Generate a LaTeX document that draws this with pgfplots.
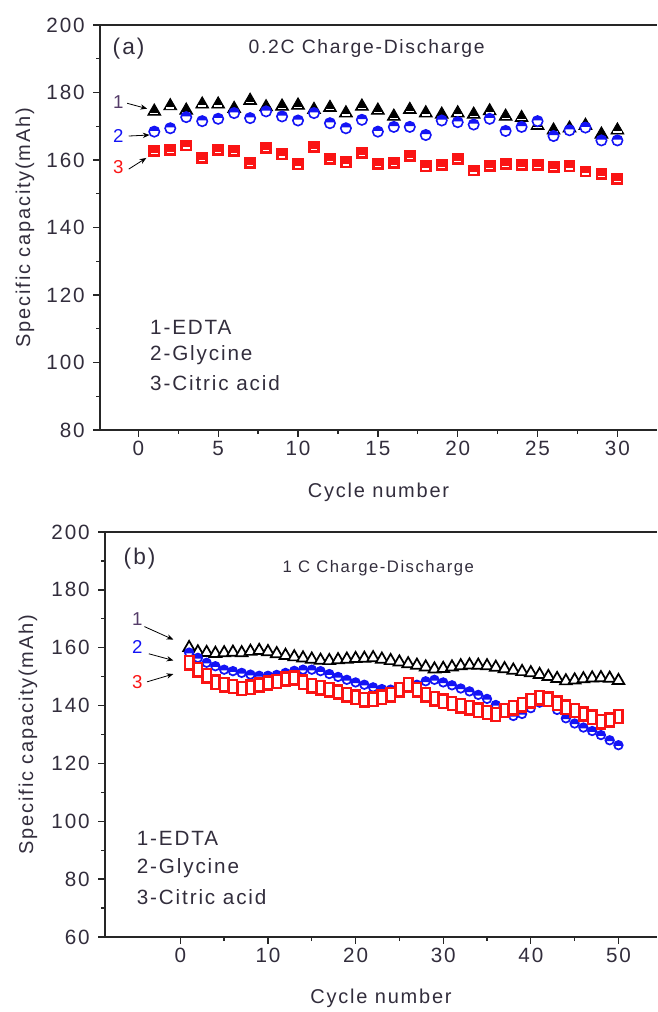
\documentclass[border=0pt]{standalone}
\usepackage{pgfplots}
\usepackage{pgfplotstable}
\pgfplotsset{compat=1.18}
\usepackage{fontspec}
\setmainfont{Liberation Sans}[LetterSpace=9]
\usetikzlibrary{arrows.meta}

\definecolor{txt}{RGB}{50,45,60}
\definecolor{mblue}{RGB}{20,20,245}
\definecolor{mred}{RGB}{250,20,20}
\definecolor{lbl1}{RGB}{85,60,105}

\pgfdeclareplotmark{triA}{%
  \pgfpathmoveto{\pgfqpoint{0pt}{\pgfplotmarksize}}%
  \pgfpathlineto{\pgfqpoint{-0.866\pgfplotmarksize}{-0.5\pgfplotmarksize}}%
  \pgfpathlineto{\pgfqpoint{0.866\pgfplotmarksize}{-0.5\pgfplotmarksize}}%
  \pgfpathclose
  \pgfusepathqfillstroke
  \begin{pgfscope}\pgfsetfillcolor{white}%
  \pgfpathrectangle{\pgfqpoint{-0.55\pgfplotmarksize}{-0.36\pgfplotmarksize}}{\pgfqpoint{1.1\pgfplotmarksize}{0.2\pgfplotmarksize}}%
  \pgfusepathqfill\end{pgfscope}%
}
\pgfdeclareplotmark{halfC}{%
  \begin{pgfscope}\pgfsetfillcolor{white}%
  \pgfpathcircle{\pgfpointorigin}{\pgfplotmarksize}\pgfusepathqfillstroke
  \end{pgfscope}%
  \pgfpathmoveto{\pgfpointpolar{171}{\pgfplotmarksize}}%
  \pgfpatharc{171}{9}{\pgfplotmarksize}%
  \pgfpathclose
  \pgfusepathqfill
}
\pgfdeclareplotmark{fullC}{%
  \begin{pgfscope}\pgfsetfillcolor{white}%
  \pgfpathcircle{\pgfpointorigin}{\pgfplotmarksize}\pgfusepathqfillstroke
  \end{pgfscope}%
  \pgfpathmoveto{\pgfpointpolar{190}{\pgfplotmarksize}}%
  \pgfpatharc{190}{-10}{\pgfplotmarksize}%
  \pgfpathclose
  \pgfusepathqfill
}
\pgfdeclareplotmark{sqA}{%
  \pgfpathrectangle{\pgfqpoint{-\pgfplotmarksize}{-\pgfplotmarksize}}{\pgfqpoint{2\pgfplotmarksize}{2\pgfplotmarksize}}%
  \pgfusepathqfillstroke
  \begin{pgfscope}\pgfsetfillcolor{white}%
  \pgfpathrectangle{\pgfqpoint{-0.6\pgfplotmarksize}{-0.6\pgfplotmarksize}}{\pgfqpoint{1.2\pgfplotmarksize}{0.25\pgfplotmarksize}}%
  \pgfusepathqfill\end{pgfscope}%
}
\pgfdeclareplotmark{rectB}{%
  \pgfpathrectangle{\pgfqpoint{-0.62\pgfplotmarksize}{-\pgfplotmarksize}}{\pgfqpoint{1.24\pgfplotmarksize}{2\pgfplotmarksize}}%
  \pgfusepathqfillstroke
}

\pgfplotstableread{
n s1 s2 s3
1 174.4 168.4 162.7
2 176.0 169.4 162.9
3 174.7 172.7 164.3
4 176.5 171.5 160.7
5 176.5 172.2 163.0
6 175.2 173.9 162.7
7 177.6 172.4 159.2
8 175.7 174.4 163.6
9 175.9 172.9 161.7
10 176.2 171.7 158.7
11 174.9 173.9 163.8
12 175.5 170.9 160.3
13 173.9 169.4 159.3
14 175.9 171.9 162.1
15 174.7 168.4 158.9
16 172.9 169.8 159.1
17 174.9 169.8 161.2
18 173.9 167.4 158.1
19 173.5 171.7 158.5
20 173.9 171.2 160.3
21 173.5 170.5 156.9
22 174.5 172.2 158.3
23 172.9 168.6 158.9
24 172.5 169.8 158.5
25 170.2 171.5 158.5
26 168.8 167.1 157.9
27 169.4 168.8 158.1
28 170.2 169.6 156.6
29 167.6 165.8 155.8
30 168.8 165.8 154.4
}\tableA

\pgfplotstableread{
n s1 s2 s3
1 160.0 158.3 154.8
2 158.5 156.5 152.4
3 158.3 154.8 150.3
4 158.0 153.6 148.0
5 158.2 152.4 147.2
6 158.4 151.9 146.6
7 158.2 151.3 145.9
8 158.7 150.7 146.3
9 159.0 150.3 147.1
10 158.6 150.3 147.8
11 157.9 150.6 148.3
12 157.3 151.3 149.2
13 156.8 152.0 149.5
14 156.4 152.4 148.0
15 156.0 152.4 146.9
16 155.6 151.9 146.2
17 155.5 150.9 145.5
18 155.8 149.9 144.7
19 156.0 148.9 143.8
20 156.2 148.0 142.9
21 156.3 147.2 142.0
22 156.5 146.3 142.2
23 156.0 145.7 142.9
24 155.5 145.5 143.8
25 155.0 146.0 145.5
26 154.4 146.6 147.2
27 153.9 147.2 145.5
28 153.3 148.4 143.8
29 152.6 148.9 142.4
30 152.8 148.0 141.5
31 153.3 147.0 140.7
32 153.7 145.9 140.0
33 154.0 144.9 139.2
34 153.9 143.7 138.4
35 153.7 142.3 137.6
36 153.2 140.2 136.9
37 152.7 137.9 138.3
38 152.2 136.4 139.2
39 151.7 137.1 140.3
40 151.3 139.1 141.7
41 150.7 141.0 142.7
42 150.0 142.0 142.2
43 149.3 138.5 140.8
44 148.5 135.6 139.4
45 148.8 133.8 138.3
46 149.2 132.4 137.1
47 149.5 131.2 135.9
48 149.6 129.8 134.4
49 149.4 128.0 135.0
50 148.6 126.3 136.2
}\tableB

\pgfplotsset{mystyle/.style={
  scale only axis, clip=false,
  axis x line*=bottom, axis y line*=left,
  axis line style={line width=1.1pt, color=black!85},
  tick align=outside,
  major tick length=5pt, minor tick length=3pt,
  every tick/.style={line width=1pt, color=black!85},
  tick label style={font=\fontsize{15.5}{17}\selectfont, text=txt},
  /pgf/number format/assume math mode=true,
  xlabel={Cycle number}, ylabel={Specific capacity(mAh)},
  label style={font=\fontsize{15}{17}\selectfont, text=txt},
  yticklabel style={xshift=-3pt},
  minor x tick num=1, minor y tick num=1,
}}

\begin{document}
\begin{tikzpicture}
\useasboundingbox (0,0) rectangle (492.75pt,759pt);
% panel (a)
\begin{axis}[mystyle,
  at={(75pt,436.5pt)}, anchor=south west,
  width=417.75pt, height=303.75pt,
  xmin=-2.4, xmax=32.48, ymin=80, ymax=200,
  xtick={0,5,...,30}, ytick={80,100,...,200},
  xlabel style={at={(axis description cs:0.5,-0.153)}, anchor=center},
  ylabel style={at={(axis description cs:-0.1347,0.5)}, anchor=center},
]
\draw[line width=1.1pt, black!85] (rel axis cs:0,1) -- (rel axis cs:1,1);
\addplot[only marks, mark=triA, mark size=5.6pt, draw=black, fill=black, line width=0.7pt] table[x=n,y=s1] {\tableA};
\addplot[only marks, mark=halfC, mark size=3.9pt, draw=mblue, fill=mblue, line width=1.2pt] table[x=n,y=s2] {\tableA};
\addplot[only marks, mark=sqA, mark size=4.1pt, draw=mred, fill=mred, line width=0.7pt] table[x=n,y=s3] {\tableA};
\node[anchor=west, font=\fontsize{17}{19}\selectfont, text=txt] at (axis cs:-1.9,193.0) {(a)};
\node[font=\fontsize{14.5}{17}\selectfont, text=txt] at (axis cs:14.3,193.0) {0.2C Charge-Discharge};
\node[font=\fontsize{14}{16}\selectfont, text=lbl1] at (axis cs:-1.25,177.3) {1};
\node[font=\fontsize{14}{16}\selectfont, text=mblue] at (axis cs:-1.25,167.1) {2};
\node[font=\fontsize{14}{16}\selectfont, text=mred] at (axis cs:-1.25,157.8) {3};
\draw[-{Stealth[length=5pt,width=4pt]}, line width=0.6pt] (axis cs:-0.7,176.8) -- (axis cs:0.55,175.2);
\draw[-{Stealth[length=5pt,width=4pt]}, line width=0.6pt] (axis cs:-0.6,167.1) -- (axis cs:0.7,167.4);
\draw[-{Stealth[length=5pt,width=4pt]}, line width=0.6pt] (axis cs:-0.6,157.3) -- (axis cs:0.5,160.6);
\node[anchor=west, font=\fontsize{15.5}{17}\selectfont, text=txt] at (axis cs:0.45,110.5) {1-EDTA};
\node[anchor=west, font=\fontsize{15.5}{17}\selectfont, text=txt] at (axis cs:0.45,102.2) {2-Glycine};
\node[anchor=west, font=\fontsize{15.5}{17}\selectfont, text=txt] at (axis cs:0.45,93.9) {3-Citric acid};
\end{axis}
% panel (b)
\begin{axis}[mystyle,
  at={(78.75pt,56.25pt)}, anchor=south west,
  width=414pt, height=303.75pt,
  xmin=-8.6, xmax=54.4, ymin=60, ymax=200,
  xtick={0,10,...,50}, ytick={60,80,...,200},
  xlabel style={at={(axis description cs:0.5,-0.151)}, anchor=center},
  ylabel style={at={(axis description cs:-0.1395,0.5)}, anchor=center},
]
\draw[line width=1.1pt, black!85] (rel axis cs:0,1) -- (rel axis cs:1,1);
\addplot[only marks, mark=triangle*, mark size=5.1pt, draw=black, fill=white, line width=1.3pt] table[x=n,y=s1] {\tableB};
\addplot[only marks, mark=fullC, mark size=3.2pt, draw=mblue, fill=mblue, line width=1.3pt] table[x=n,y=s2] {\tableB};
\addplot[only marks, mark=rectB, mark size=5pt, draw=mred, fill=white, line width=1.9pt] table[x=n,y=s3] {\tableB};
\node[anchor=west, font=\fontsize{17}{19}\selectfont, text=txt] at (axis cs:-7.0,190.7) {(b)};
\node[font=\fontsize{12.5}{15}\selectfont, text=txt] at (axis cs:22.6,187.4) {1 C Charge-Discharge};
\node[font=\fontsize{14}{16}\selectfont, text=lbl1] at (axis cs:-4.9,170.0) {1};
\node[font=\fontsize{14}{16}\selectfont, text=mblue] at (axis cs:-4.9,160.3) {2};
\node[font=\fontsize{14}{16}\selectfont, text=mred] at (axis cs:-4.9,148.0) {3};
\draw[-{Stealth[length=5pt,width=4pt]}, line width=0.6pt] (axis cs:-4.1,167.3) -- (axis cs:-0.8,162.8);
\draw[-{Stealth[length=5pt,width=4pt]}, line width=0.6pt] (axis cs:-3.6,157.9) -- (axis cs:-0.8,155.6);
\draw[-{Stealth[length=5pt,width=4pt]}, line width=0.6pt] (axis cs:-3.8,148.2) -- (axis cs:-0.8,150.9);
\node[anchor=west, font=\fontsize{15.5}{17}\selectfont, text=txt] at (axis cs:-5.5,94.1) {1-EDTA};
\node[anchor=west, font=\fontsize{15.5}{17}\selectfont, text=txt] at (axis cs:-5.5,83.7) {2-Glycine};
\node[anchor=west, font=\fontsize{15.5}{17}\selectfont, text=txt] at (axis cs:-5.5,73.7) {3-Citric acid};
\end{axis}
\end{tikzpicture}
\end{document}
